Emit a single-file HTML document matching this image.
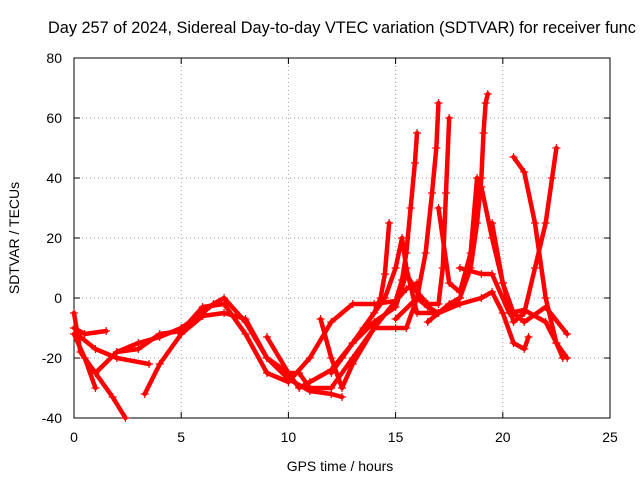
<!DOCTYPE html>
<html><head><meta charset="utf-8"><style>
body{margin:0;background:#fff}
svg{display:block;font-family:"Liberation Sans",sans-serif}
</style></head><body>
<svg id="chart" width="640" height="480">
<text x="48" y="33" font-size="16.3">Day 257 of 2024, Sidereal Day-to-day VTEC variation (SDTVAR) for receiver func</text>
<g id="grid"></g>
<g id="axes"></g>
<g id="series"></g>
<text x="340" y="471" font-size="14" text-anchor="middle">GPS time / hours</text>
<text transform="translate(19,238) rotate(-90)" font-size="14" text-anchor="middle">SDTVAR / TECUs</text>
</svg>
<script>
const xTicks=[0,5,10,15,20,25];
const yTicks=[-40,-20,0,20,40,60,80];
const tracks=[
[[0,-5],[0.3,-18],[1,-25],[1.8,-33],[2.4,-40]],
[[0,-10],[0.5,-12],[1.5,-11]],
[[0,-12],[0.5,-20],[1,-30]],
[[0.3,-13],[1,-17],[2,-20],[3.5,-22]],
[[1,-25],[2,-18],[3,-15],[4,-13],[5,-10],[6,-5],[6.5,-2],[7,0],[8,-8],[9,-20],[10,-27],[11,-31],[12,-32],[12.5,-33]],
[[3.3,-32],[4,-22],[5,-12],[6,-6],[7,-5],[8,-7],[9,-20],[10,-25],[10.5,-30],[11,-28],[12,-24],[13,-15],[14,-5],[14.3,0],[14.5,8],[14.7,25]],
[[2,-18],[3,-17],[4,-12],[5,-11],[6,-3],[7,-2],[8,-12],[9,-25],[10,-28],[11,-20],[12,-8],[13,-2],[14,-2],[15,-1],[15.5,3],[16,5]],
[[9,-13],[10,-25],[10.5,-25],[11,-30],[12,-30],[13,-20],[14,-10],[15,-10],[15.5,-10],[16,0],[16.4,15],[16.7,35],[16.9,50],[17,65]],
[[11.5,-7],[12,-20],[12.5,-30],[13,-22],[14,-10],[15,-1],[15.3,6],[15.5,15],[15.7,30],[15.9,45],[16,55]],
[[12,-25],[13,-15],[14,-8],[15,-3],[15.5,8],[16,2],[16.5,-2],[17,-2],[17.2,10],[17.35,35],[17.5,60]],
[[12.5,-20],[13.5,-10],[14.5,0],[15,10],[15.3,20],[15.5,10],[16,-5],[17,-5],[17.5,-3],[18,0],[18.5,10],[18.8,25],[19,40],[19.1,55],[19.2,65],[19.3,68]],
[[16.5,-8],[17,-5],[18,-2],[19,0],[19.5,2],[20,-5],[20.5,-15],[21,-17],[21.2,-13]],
[[17,30],[17.5,5],[18,2],[18.5,15],[18.8,40],[19,37],[19.5,20],[20,5],[20.5,-8],[21,-5],[21.5,10],[22,25],[22.3,40],[22.5,50]],
[[20.5,47],[21,42],[21.5,25],[22,0],[22.5,-15],[22.8,-20]],
[[19.5,25],[20,5],[20.5,-5],[21,-8],[22,-3],[23,-12]],
[[18,10],[19,8],[19.5,8],[20.3,-5],[21,-4],[22,-8],[22.5,-15],[23,-20]],
[[15,-7],[16,0],[16.5,-3],[17,-5],[17.5,-2],[18,0]]
];
const X0=74,X1=610,Y0=418,Y1=58;
const sx=v=>X0+(v-0)/25*(X1-X0);
const sy=v=>Y0-(v+40)/120*(Y0-Y1);
const NS="http://www.w3.org/2000/svg";
function mk(t,a,p){const e=document.createElementNS(NS,t);for(const k in a)e.setAttribute(k,a[k]);p.appendChild(e);return e;}
const grid=document.getElementById('grid'),axes=document.getElementById('axes'),ser=document.getElementById('series');
xTicks.forEach(t=>{const x=sx(t);
 if(t>0&&t<25){const g=mk('line',{x1:x,x2:x,y1:Y1,y2:Y0,stroke:'#a0a0a0','stroke-dasharray':'1,3'},grid);
 }
 mk('line',{x1:x,x2:x,y1:Y0,y2:Y0-6,stroke:'#000'},axes);mk('line',{x1:x,x2:x,y1:Y1,y2:Y1+6,stroke:'#000'},axes);
 const l=mk('text',{x:x,y:Y0+24,'font-size':14,'text-anchor':'middle'},axes);l.textContent=t;
 });
yTicks.forEach(t=>{const y=sy(t);
 if(t>-40&&t<80){const g=mk('line',{x1:X0,x2:X1,y1:y,y2:y,stroke:'#a0a0a0','stroke-dasharray':'1,3'},grid);
 }
 mk('line',{x1:X0,x2:X0+6,y1:y,y2:y,stroke:'#000'},axes);mk('line',{x1:X1,x2:X1-6,y1:y,y2:y,stroke:'#000'},axes);
 const l=mk('text',{x:X0-12,y:y+5,'font-size':14,'text-anchor':'end'},axes);l.textContent=t;
 });
mk('rect',{x:X0,y:Y1,width:X1-X0,height:Y0-Y1,fill:'none',stroke:'#000'},axes);
tracks.forEach((tr,i)=>{
 const g=mk('g',{},ser);
 
 
 mk('polyline',{points:tr.map(p=>sx(p[0])+','+sy(p[1])).join(' '),fill:'none',stroke:'#f00','stroke-width':4.5,'stroke-linejoin':'round','stroke-linecap':'round'},g);
 tr.forEach(p=>{const x=sx(p[0]),y=sy(p[1]);
  mk('path',{d:`M${x-4},${y}h8M${x},${y-4}v8`,stroke:'#f00','stroke-width':1.2},g);});
});
</script>
</body></html>
